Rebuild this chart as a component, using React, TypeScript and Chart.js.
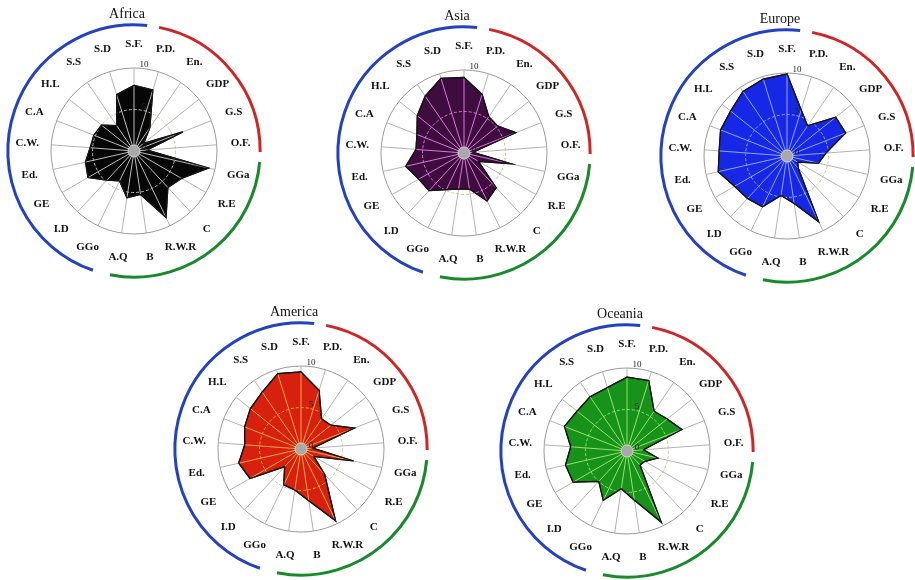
import { useEffect, useRef } from 'react';
import { Chart, registerables } from 'chart.js';

Chart.register(...registerables);

// Indicator axes, clockwise from the top
const categories = [
  'S.F.', 'P.D.', 'En.', 'GDP', 'G.S', 'O.F.', 'GGa', 'R.E', 'C', 'R.W.R', 'B',
  'A.Q', 'GGo', 'I.D', 'GE', 'Ed.', 'C.W.', 'C.A', 'H.L', 'S.S', 'S.D',
];

// Scores (0–10) per region, same order as categories
const africa = [7.9, 7.7, 3.4, 1.5, 6.3, 1.6, 9.2, 6.6, 6.0, 8.9, 5.3, 5.7, 4.0, 4.8, 6.4, 6.0, 5.3, 5.2, 5.0, 3.7, 7.1];
const asia = [9.1, 7.4, 5.3, 5.2, 6.7, 1.1, 5.8, 2.0, 5.7, 6.4, 4.4, 4.4, 4.9, 6.2, 6.3, 7.2, 5.8, 6.1, 7.2, 8.3, 9.4];
const europe = [9.9, 5.8, 4.4, 7.5, 7.6, 4.7, 3.9, 1.5, 2.0, 8.8, 5.8, 4.8, 6.8, 7.0, 7.3, 8.5, 8.2, 8.6, 8.7, 9.4, 9.7];
const america = [9.3, 7.4, 4.4, 4.6, 6.9, 1.4, 6.5, 1.8, 4.2, 9.6, 6.3, 5.0, 4.8, 2.9, 7.1, 7.7, 6.8, 7.3, 7.8, 8.3, 9.5];
const oceania = [8.9, 8.9, 5.8, 6.2, 7.1, 2.0, 3.8, 2.5, 2.3, 9.5, 6.0, 4.6, 6.6, 5.0, 7.5, 7.6, 6.8, 8.1, 7.7, 7.9, 8.0];

// Radial scale ticks
const tickValues = [0, 5, 10];
const tickLabels = ['0', '5', '10'];

const SERIF = '"Liberation Serif", "Times New Roman", serif';

// Coloured arcs grouping the indicators (degrees, clockwise from top)
const groupArcs = [
  { color: '#2342c2', from: 199, to: 366 },
  { color: '#d22424', from: 11.5, to: 90.5 },
  { color: '#198a2c', from: 95, to: 191 },
];

type Panel = {
  title: string;
  values: number[];
  fill: string;
  inner: string;
  cx: number;
  cy: number;
};

const panels: Panel[] = [
  { title: 'Africa', values: africa, fill: '#060606', inner: '#bdbdbd', cx: 134, cy: 151 },
  { title: 'Asia', values: asia, fill: '#3e0c3e', inner: '#d77ad7', cx: 464, cy: 153 },
  { title: 'Europe', values: europe, fill: '#1628e6', inner: '#93a6ff', cx: 787, cy: 156 },
  { title: 'America', values: america, fill: '#d8200e', inner: '#f6a94a', cx: 301, cy: 449 },
  { title: 'Oceania', values: oceania, fill: '#17921a', inner: '#97e36a', cx: 627, cy: 451 },
];

const OUTLINE = '#151515';

function tracePolygon(ctx: CanvasRenderingContext2D, pts: any[]) {
  ctx.beginPath();
  pts.forEach((pt, i) => (i ? ctx.lineTo(pt.x, pt.y) : ctx.moveTo(pt.x, pt.y)));
  ctx.closePath();
}

const radarDecor = {
  id: 'radarDecor',
  afterDatasetsDraw(chart: any, _args: any, opts: any) {
    const s = chart.scales.r;
    const ctx: CanvasRenderingContext2D = chart.ctx;
    const pts = chart.getDatasetMeta(0).data;
    const cx = s.xCenter;
    const cy = s.yCenter;
    const R = s.drawingArea;

    // light spokes and mid ring showing through the filled area
    ctx.save();
    tracePolygon(ctx, pts);
    ctx.clip();
    ctx.strokeStyle = opts.inner;
    ctx.lineWidth = 1;
    categories.forEach((_, i) => {
      const e = s.getPointPosition(i, R);
      ctx.beginPath();
      ctx.moveTo(cx, cy);
      ctx.lineTo(e.x, e.y);
      ctx.stroke();
    });
    ctx.setLineDash([3, 2]);
    tickValues
      .filter((v) => v > s.min && v < s.max)
      .forEach((v) => {
        ctx.beginPath();
        ctx.arc(cx, cy, s.getDistanceFromCenterForValue(v), 0, Math.PI * 2);
        ctx.stroke();
      });
    ctx.restore();

    // polygon outline on top
    ctx.save();
    tracePolygon(ctx, pts);
    ctx.strokeStyle = OUTLINE;
    ctx.lineWidth = 1.2;
    ctx.lineJoin = 'miter';
    ctx.stroke();
    ctx.restore();

    // grey hub where the spokes meet
    ctx.save();
    ctx.beginPath();
    ctx.arc(cx, cy, 6, 0, Math.PI * 2);
    ctx.fillStyle = '#a9a9a9';
    ctx.fill();
    ctx.strokeStyle = '#cfcfcf';
    ctx.lineWidth = 1;
    ctx.stroke();
    ctx.restore();

    // tick values along the vertical axis
    ctx.save();
    ctx.font = `9px ${SERIF}`;
    ctx.fillStyle = '#222';
    ctx.textAlign = 'center';
    ctx.textBaseline = 'middle';
    tickValues.forEach((v, i) => {
      const d = s.getDistanceFromCenterForValue(v);
      ctx.fillText(tickLabels[i], cx + 10, cy - d - 3);
    });
    ctx.restore();

    // indicator names around the circle
    ctx.save();
    ctx.font = `bold 11px ${SERIF}`;
    ctx.fillStyle = '#111';
    ctx.textAlign = 'center';
    ctx.textBaseline = 'middle';
    categories.forEach((name, i) => {
      const p = s.getPointPosition(i, R + 24);
      ctx.fillText(name, p.x, p.y);
    });
    ctx.restore();
  },
  afterDraw(chart: any) {
    const s = chart.scales.r;
    const ctx: CanvasRenderingContext2D = chart.ctx;
    const r = s.drawingArea * 1.52;
    ctx.save();
    ctx.lineWidth = 3;
    ctx.lineCap = 'butt';
    groupArcs.forEach((a) => {
      ctx.strokeStyle = a.color;
      ctx.beginPath();
      ctx.arc(
        s.xCenter,
        s.yCenter,
        r,
        ((a.from - 90) * Math.PI) / 180,
        ((a.to - 90) * Math.PI) / 180,
        false
      );
      ctx.stroke();
    });
    ctx.restore();
  },
};

function RadarPanel({ panel }: { panel: Panel }) {
  const ref = useRef<HTMLCanvasElement>(null);

  useEffect(() => {
    if (!ref.current) return;
    const chart = new Chart(ref.current, {
      type: 'radar',
      data: {
        labels: categories,
        datasets: [
          {
            data: panel.values,
            backgroundColor: panel.fill,
            borderColor: OUTLINE,
            borderWidth: 1.2,
            pointRadius: 0,
            pointHoverRadius: 0,
            fill: true,
          },
        ],
      },
      options: {
        animation: false,
        responsive: false,
        devicePixelRatio: 1,
        events: [],
        layout: { padding: { top: 0, left: 67, right: 67, bottom: 67 } },
        plugins: {
          legend: { display: false },
          tooltip: { enabled: false },
          title: {
            display: true,
            text: panel.title,
            color: '#111',
            font: { family: SERIF, size: 14, weight: 'normal' },
            padding: { top: 4.6, bottom: 45.6 },
          },
          radarDecor: { inner: panel.inner },
        } as any,
        scales: {
          r: {
            min: 0,
            max: 10,
            afterFit: (scale: any) => {
              scale.xCenter += 7;
            },
            ticks: { display: false, stepSize: 5 },
            pointLabels: { display: false },
            angleLines: { color: '#b3b3b3', lineWidth: 1 },
            grid: {
              circular: true,
              lineWidth: 1,
              color: (c: any) => (c.tick && c.tick.value === 5 ? '#cfc29e' : '#9a9a9a'),
            },
            border: {
              dash: (c: any) => (c.tick && c.tick.value === 5 ? [3, 2] : []),
            },
          } as any,
        },
      },
      plugins: [radarDecor as any],
    });
    return () => chart.destroy();
  }, [panel]);

  return (
    <canvas
      ref={ref}
      width={300}
      height={300}
      style={{
        position: 'absolute',
        left: panel.cx - 157,
        top: panel.cy - 150,
        width: 300,
        height: 300,
      }}
    />
  );
}

export default function App() {
  return (
    <div
      style={{
        position: 'absolute',
        left: 0,
        top: 0,
        width: 915,
        height: 580,
        background: '#ffffff',
        overflow: 'hidden',
      }}
    >
      {panels.map((p) => (
        <RadarPanel key={p.title} panel={p} />
      ))}
    </div>
  );
}
